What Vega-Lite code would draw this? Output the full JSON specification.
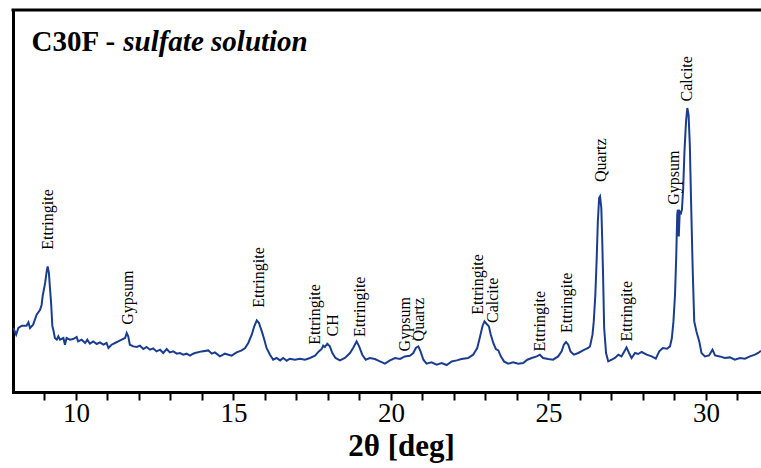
{
  "$schema": "https://vega.github.io/schema/vega-lite/v6.json",
  "width": 748,
  "height": 382,
  "autosize": "none",
  "padding": {"left": 13, "top": 10, "right": 0, "bottom": 76},
  "background": "white",
  "config": {
    "view": {"stroke": null},
    "font": "Liberation Serif"
  },
  "datasets": {
    "pattern": [
      {"two_theta": 8.01, "intensity": 64.0},
      {"two_theta": 8.10, "intensity": 57.3},
      {"two_theta": 8.17, "intensity": 64.0},
      {"two_theta": 8.28, "intensity": 66.3},
      {"two_theta": 8.43, "intensity": 66.3},
      {"two_theta": 8.49, "intensity": 69.6},
      {"two_theta": 8.54, "intensity": 64.0},
      {"two_theta": 8.64, "intensity": 67.3},
      {"two_theta": 8.75, "intensity": 77.3},
      {"two_theta": 8.86, "intensity": 82.3},
      {"two_theta": 8.91, "intensity": 87.3},
      {"two_theta": 8.94, "intensity": 95.6},
      {"two_theta": 8.96, "intensity": 99.0},
      {"two_theta": 9.02, "intensity": 109.0},
      {"two_theta": 9.07, "intensity": 120.6},
      {"two_theta": 9.10, "intensity": 125.6},
      {"two_theta": 9.14, "intensity": 119.0},
      {"two_theta": 9.17, "intensity": 105.6},
      {"two_theta": 9.21, "intensity": 89.0},
      {"two_theta": 9.25, "intensity": 65.6},
      {"two_theta": 9.28, "intensity": 62.3},
      {"two_theta": 9.33, "intensity": 54.0},
      {"two_theta": 9.39, "intensity": 52.3},
      {"two_theta": 9.44, "intensity": 55.6},
      {"two_theta": 9.49, "intensity": 52.3},
      {"two_theta": 9.60, "intensity": 54.0},
      {"two_theta": 9.65, "intensity": 47.3},
      {"two_theta": 9.70, "intensity": 54.0},
      {"two_theta": 9.81, "intensity": 52.3},
      {"two_theta": 9.91, "intensity": 53.0},
      {"two_theta": 10.02, "intensity": 55.0},
      {"two_theta": 10.07, "intensity": 50.6},
      {"two_theta": 10.18, "intensity": 52.3},
      {"two_theta": 10.29, "intensity": 49.0},
      {"two_theta": 10.36, "intensity": 52.3},
      {"two_theta": 10.44, "intensity": 48.3},
      {"two_theta": 10.55, "intensity": 50.6},
      {"two_theta": 10.66, "intensity": 48.0},
      {"two_theta": 10.76, "intensity": 49.6},
      {"two_theta": 10.87, "intensity": 47.3},
      {"two_theta": 10.97, "intensity": 49.0},
      {"two_theta": 11.03, "intensity": 44.0},
      {"two_theta": 11.13, "intensity": 47.3},
      {"two_theta": 11.24, "intensity": 49.0},
      {"two_theta": 11.34, "intensity": 50.6},
      {"two_theta": 11.45, "intensity": 52.3},
      {"two_theta": 11.56, "intensity": 54.0},
      {"two_theta": 11.61, "intensity": 59.0},
      {"two_theta": 11.66, "intensity": 55.6},
      {"two_theta": 11.71, "intensity": 47.3},
      {"two_theta": 11.82, "intensity": 45.6},
      {"two_theta": 11.93, "intensity": 45.0},
      {"two_theta": 12.03, "intensity": 46.3},
      {"two_theta": 12.14, "intensity": 43.0},
      {"two_theta": 12.24, "intensity": 45.0},
      {"two_theta": 12.35, "intensity": 42.3},
      {"two_theta": 12.45, "intensity": 43.6},
      {"two_theta": 12.56, "intensity": 40.6},
      {"two_theta": 12.67, "intensity": 42.3},
      {"two_theta": 12.77, "intensity": 39.0},
      {"two_theta": 12.88, "intensity": 43.0},
      {"two_theta": 12.98, "intensity": 39.6},
      {"two_theta": 13.09, "intensity": 40.6},
      {"two_theta": 13.20, "intensity": 38.3},
      {"two_theta": 13.30, "intensity": 39.0},
      {"two_theta": 13.41, "intensity": 37.3},
      {"two_theta": 13.51, "intensity": 38.3},
      {"two_theta": 13.62, "intensity": 36.3},
      {"two_theta": 13.72, "intensity": 38.3},
      {"two_theta": 13.78, "intensity": 39.0},
      {"two_theta": 13.99, "intensity": 40.6},
      {"two_theta": 14.20, "intensity": 41.6},
      {"two_theta": 14.31, "intensity": 38.3},
      {"two_theta": 14.41, "intensity": 39.6},
      {"two_theta": 14.57, "intensity": 35.6},
      {"two_theta": 14.73, "intensity": 38.3},
      {"two_theta": 14.94, "intensity": 36.3},
      {"two_theta": 15.10, "intensity": 39.6},
      {"two_theta": 15.26, "intensity": 41.6},
      {"two_theta": 15.37, "intensity": 44.0},
      {"two_theta": 15.47, "intensity": 49.0},
      {"two_theta": 15.58, "intensity": 57.3},
      {"two_theta": 15.66, "intensity": 65.6},
      {"two_theta": 15.74, "intensity": 71.6},
      {"two_theta": 15.81, "intensity": 69.0},
      {"two_theta": 15.90, "intensity": 60.6},
      {"two_theta": 15.98, "intensity": 52.3},
      {"two_theta": 16.05, "intensity": 44.0},
      {"two_theta": 16.16, "intensity": 37.3},
      {"two_theta": 16.26, "intensity": 32.3},
      {"two_theta": 16.37, "intensity": 34.0},
      {"two_theta": 16.48, "intensity": 31.6},
      {"two_theta": 16.58, "intensity": 34.0},
      {"two_theta": 16.69, "intensity": 31.3},
      {"two_theta": 16.79, "intensity": 33.3},
      {"two_theta": 16.95, "intensity": 32.3},
      {"two_theta": 17.11, "intensity": 33.3},
      {"two_theta": 17.27, "intensity": 32.3},
      {"two_theta": 17.43, "intensity": 34.0},
      {"two_theta": 17.59, "intensity": 36.3},
      {"two_theta": 17.71, "intensity": 40.6},
      {"two_theta": 17.80, "intensity": 43.0},
      {"two_theta": 17.85, "intensity": 46.3},
      {"two_theta": 17.90, "intensity": 45.0},
      {"two_theta": 17.98, "intensity": 48.3},
      {"two_theta": 18.06, "intensity": 45.6},
      {"two_theta": 18.14, "intensity": 39.0},
      {"two_theta": 18.24, "intensity": 34.0},
      {"two_theta": 18.38, "intensity": 31.6},
      {"two_theta": 18.54, "intensity": 34.0},
      {"two_theta": 18.70, "intensity": 39.0},
      {"two_theta": 18.80, "intensity": 44.0},
      {"two_theta": 18.91, "intensity": 50.6},
      {"two_theta": 18.99, "intensity": 45.6},
      {"two_theta": 19.09, "intensity": 37.3},
      {"two_theta": 19.20, "intensity": 32.3},
      {"two_theta": 19.33, "intensity": 34.0},
      {"two_theta": 19.49, "intensity": 33.0},
      {"two_theta": 19.65, "intensity": 30.6},
      {"two_theta": 19.81, "intensity": 28.3},
      {"two_theta": 19.97, "intensity": 31.6},
      {"two_theta": 20.13, "intensity": 34.0},
      {"two_theta": 20.29, "intensity": 33.0},
      {"two_theta": 20.44, "intensity": 35.6},
      {"two_theta": 20.60, "intensity": 36.3},
      {"two_theta": 20.71, "intensity": 39.0},
      {"two_theta": 20.79, "intensity": 44.0},
      {"two_theta": 20.87, "intensity": 45.6},
      {"two_theta": 20.94, "intensity": 40.6},
      {"two_theta": 21.03, "intensity": 32.3},
      {"two_theta": 21.13, "intensity": 28.3},
      {"two_theta": 21.29, "intensity": 29.6},
      {"two_theta": 21.45, "intensity": 27.3},
      {"two_theta": 21.61, "intensity": 29.0},
      {"two_theta": 21.77, "intensity": 27.0},
      {"two_theta": 21.93, "intensity": 30.6},
      {"two_theta": 22.09, "intensity": 31.6},
      {"two_theta": 22.24, "intensity": 33.0},
      {"two_theta": 22.45, "intensity": 34.0},
      {"two_theta": 22.61, "intensity": 37.3},
      {"two_theta": 22.74, "intensity": 44.0},
      {"two_theta": 22.83, "intensity": 55.6},
      {"two_theta": 22.91, "intensity": 66.3},
      {"two_theta": 22.97, "intensity": 70.6},
      {"two_theta": 23.04, "intensity": 68.0},
      {"two_theta": 23.11, "intensity": 65.6},
      {"two_theta": 23.17, "intensity": 57.3},
      {"two_theta": 23.25, "intensity": 49.0},
      {"two_theta": 23.33, "intensity": 43.0},
      {"two_theta": 23.41, "intensity": 41.6},
      {"two_theta": 23.49, "intensity": 35.6},
      {"two_theta": 23.59, "intensity": 30.6},
      {"two_theta": 23.72, "intensity": 28.3},
      {"two_theta": 23.88, "intensity": 29.6},
      {"two_theta": 24.04, "intensity": 28.3},
      {"two_theta": 24.20, "intensity": 29.0},
      {"two_theta": 24.33, "intensity": 32.3},
      {"two_theta": 24.47, "intensity": 34.0},
      {"two_theta": 24.63, "intensity": 35.6},
      {"two_theta": 24.73, "intensity": 37.3},
      {"two_theta": 24.83, "intensity": 34.0},
      {"two_theta": 24.99, "intensity": 33.0},
      {"two_theta": 25.15, "intensity": 32.3},
      {"two_theta": 25.31, "intensity": 35.6},
      {"two_theta": 25.42, "intensity": 40.6},
      {"two_theta": 25.49, "intensity": 47.3},
      {"two_theta": 25.56, "intensity": 50.0},
      {"two_theta": 25.63, "intensity": 47.3},
      {"two_theta": 25.70, "intensity": 40.6},
      {"two_theta": 25.81, "intensity": 37.3},
      {"two_theta": 25.95, "intensity": 39.0},
      {"two_theta": 26.10, "intensity": 41.6},
      {"two_theta": 26.26, "intensity": 44.0},
      {"two_theta": 26.32, "intensity": 45.6},
      {"two_theta": 26.40, "intensity": 57.3},
      {"two_theta": 26.44, "intensity": 70.6},
      {"two_theta": 26.49, "intensity": 97.3},
      {"two_theta": 26.53, "intensity": 130.6},
      {"two_theta": 26.57, "intensity": 170.6},
      {"two_theta": 26.61, "intensity": 194.0},
      {"two_theta": 26.64, "intensity": 195.6},
      {"two_theta": 26.68, "intensity": 184.0},
      {"two_theta": 26.71, "intensity": 150.6},
      {"two_theta": 26.74, "intensity": 110.6},
      {"two_theta": 26.77, "intensity": 64.0},
      {"two_theta": 26.83, "intensity": 39.0},
      {"two_theta": 26.90, "intensity": 30.6},
      {"two_theta": 27.01, "intensity": 32.3},
      {"two_theta": 27.11, "intensity": 34.0},
      {"two_theta": 27.22, "intensity": 37.3},
      {"two_theta": 27.32, "intensity": 35.6},
      {"two_theta": 27.41, "intensity": 40.6},
      {"two_theta": 27.48, "intensity": 44.6},
      {"two_theta": 27.56, "intensity": 39.0},
      {"two_theta": 27.64, "intensity": 34.0},
      {"two_theta": 27.75, "intensity": 39.0},
      {"two_theta": 27.85, "intensity": 38.0},
      {"two_theta": 27.96, "intensity": 40.0},
      {"two_theta": 28.12, "intensity": 37.3},
      {"two_theta": 28.28, "intensity": 35.6},
      {"two_theta": 28.41, "intensity": 33.3},
      {"two_theta": 28.52, "intensity": 40.6},
      {"two_theta": 28.63, "intensity": 44.0},
      {"two_theta": 28.77, "intensity": 43.3},
      {"two_theta": 28.86, "intensity": 45.6},
      {"two_theta": 28.92, "intensity": 54.0},
      {"two_theta": 28.97, "intensity": 70.6},
      {"two_theta": 29.02, "intensity": 97.3},
      {"two_theta": 29.06, "intensity": 137.3},
      {"two_theta": 29.09, "intensity": 177.3},
      {"two_theta": 29.11, "intensity": 182.3},
      {"two_theta": 29.14, "intensity": 155.6},
      {"two_theta": 29.17, "intensity": 180.6},
      {"two_theta": 29.21, "intensity": 179.0},
      {"two_theta": 29.24, "intensity": 182.3},
      {"two_theta": 29.28, "intensity": 204.0},
      {"two_theta": 29.32, "intensity": 240.6},
      {"two_theta": 29.37, "intensity": 270.6},
      {"two_theta": 29.41, "intensity": 284.0},
      {"two_theta": 29.45, "intensity": 277.3},
      {"two_theta": 29.49, "intensity": 247.3},
      {"two_theta": 29.53, "intensity": 190.6},
      {"two_theta": 29.58, "intensity": 124.0},
      {"two_theta": 29.63, "intensity": 70.6},
      {"two_theta": 29.70, "intensity": 60.6},
      {"two_theta": 29.79, "intensity": 50.6},
      {"two_theta": 29.86, "intensity": 39.0},
      {"two_theta": 29.97, "intensity": 35.6},
      {"two_theta": 30.10, "intensity": 36.6},
      {"two_theta": 30.21, "intensity": 42.3},
      {"two_theta": 30.29, "intensity": 36.6},
      {"two_theta": 30.44, "intensity": 35.6},
      {"two_theta": 30.60, "intensity": 34.0},
      {"two_theta": 30.76, "intensity": 34.6},
      {"two_theta": 30.92, "intensity": 32.3},
      {"two_theta": 31.08, "intensity": 34.0},
      {"two_theta": 31.24, "intensity": 33.3},
      {"two_theta": 31.40, "intensity": 35.6},
      {"two_theta": 31.56, "intensity": 37.3},
      {"two_theta": 31.66, "intensity": 39.0},
      {"two_theta": 31.75, "intensity": 41.3}
    ],
    "phases": [
      {"two_theta": 9.12, "level": 142.3, "phase": "Ettringite"},
      {"two_theta": 11.66, "level": 67.3, "phase": "Gypsum"},
      {"two_theta": 15.82, "level": 84.3, "phase": "Ettringite"},
      {"two_theta": 17.59, "level": 47.3, "phase": "Ettringite"},
      {"two_theta": 18.17, "level": 55.6, "phase": "CH"},
      {"two_theta": 19.02, "level": 55.0, "phase": "Ettringite"},
      {"two_theta": 20.44, "level": 40.6, "phase": "Gypsum"},
      {"two_theta": 20.90, "level": 50.6, "phase": "Quartz"},
      {"two_theta": 22.75, "level": 77.3, "phase": "Ettringite"},
      {"two_theta": 23.23, "level": 69.0, "phase": "Calcite"},
      {"two_theta": 24.73, "level": 40.6, "phase": "Ettringite"},
      {"two_theta": 25.60, "level": 59.0, "phase": "Ettringite"},
      {"two_theta": 26.66, "level": 210.0, "phase": "Quartz"},
      {"two_theta": 27.48, "level": 50.6, "phase": "Ettringite"},
      {"two_theta": 28.99, "level": 187.3, "phase": "Gypsum"},
      {"two_theta": 29.39, "level": 290.6, "phase": "Calcite"}
    ]
  },
  "resolve": {
    "scale": {"x": "shared", "y": "shared"},
    "axis": {"x": "independent", "y": "independent"}
  },
  "layer": [
    {
      "data": {"name": "pattern"},
      "mark": {"type": "line", "color": "#1b3d8f", "strokeWidth": 2, "interpolate": "linear", "clip": true},
      "encoding": {
        "x": {
          "field": "two_theta",
          "type": "quantitative",
          "scale": {"domain": [8, 31.75], "nice": false, "zero": false},
          "axis": {
            "orient": "bottom",
            "values": [9, 10, 11, 12, 13, 14, 15, 16, 17, 18, 19, 20, 21, 22, 23, 24, 25, 26, 27, 28, 29, 30, 31],
            "labelExpr": "datum.value % 5 === 0 ? datum.label : ''",
            "ticks": true,
            "tickSize": 8,
            "tickWidth": 2,
            "tickColor": "black",
            "domainColor": "black",
            "domainWidth": 3,
            "domainCap": "square",
            "grid": false,
            "labelFont": "Liberation Serif",
            "labelFontSize": 27,
            "labelColor": "black",
            "labelPadding": 0,
            "labelFlush": false,
            "labelOverlap": false,
            "title": "2θ [deg]",
            "titleFont": "Liberation Serif",
            "titleFontSize": 31,
            "titleFontWeight": "bold",
            "titleColor": "black",
            "titleX": 388,
            "titleY": 63,
            "titleAlign": "center",
            "titleBaseline": "alphabetic",
            "encode": {
              "ticks": {
                "update": {
                  "y": [
                    {"test": "datum.value % 5 === 0", "value": 4},
                    {"value": 0}
                  ],
                  "y2": {"value": -8}
                }
              }
            }
          }
        },
        "y": {
          "field": "intensity",
          "type": "quantitative",
          "scale": {"domain": [0, 382], "nice": false, "zero": true},
          "axis": {
            "orient": "left",
            "ticks": false,
            "labels": false,
            "grid": false,
            "title": null,
            "domainColor": "black",
            "domainWidth": 3,
            "domainCap": "square"
          }
        }
      }
    },
    {
      "data": {"values": [{}]},
      "mark": {"type": "rule", "color": "black", "strokeWidth": 3, "strokeCap": "square"},
      "encoding": {
        "y": {"datum": 382, "type": "quantitative", "axis": null}
      }
    },
    {
      "data": {"name": "phases"},
      "mark": {
        "type": "text",
        "angle": 270,
        "align": "left",
        "baseline": "middle",
        "font": "Liberation Serif",
        "fontSize": 16,
        "color": "black"
      },
      "encoding": {
        "x": {"field": "two_theta", "type": "quantitative", "axis": null},
        "y": {"field": "level", "type": "quantitative", "axis": null},
        "text": {"field": "phase"}
      }
    },
    {
      "data": {"values": [{}]},
      "mark": {
        "type": "text",
        "text": "C30F -",
        "align": "left",
        "baseline": "alphabetic",
        "font": "Liberation Serif",
        "fontSize": 29,
        "fontWeight": "bold",
        "color": "black"
      },
      "encoding": {
        "x": {"datum": 8.59, "type": "quantitative", "axis": null},
        "y": {"datum": 341.5, "type": "quantitative", "axis": null}
      }
    },
    {
      "data": {"values": [{}]},
      "mark": {
        "type": "text",
        "text": "sulfate solution",
        "align": "left",
        "baseline": "alphabetic",
        "font": "Liberation Serif",
        "fontSize": 29,
        "fontWeight": "bold",
        "fontStyle": "italic",
        "color": "black"
      },
      "encoding": {
        "x": {"datum": 11.5, "type": "quantitative", "axis": null},
        "y": {"datum": 341.5, "type": "quantitative", "axis": null}
      }
    }
  ]
}
